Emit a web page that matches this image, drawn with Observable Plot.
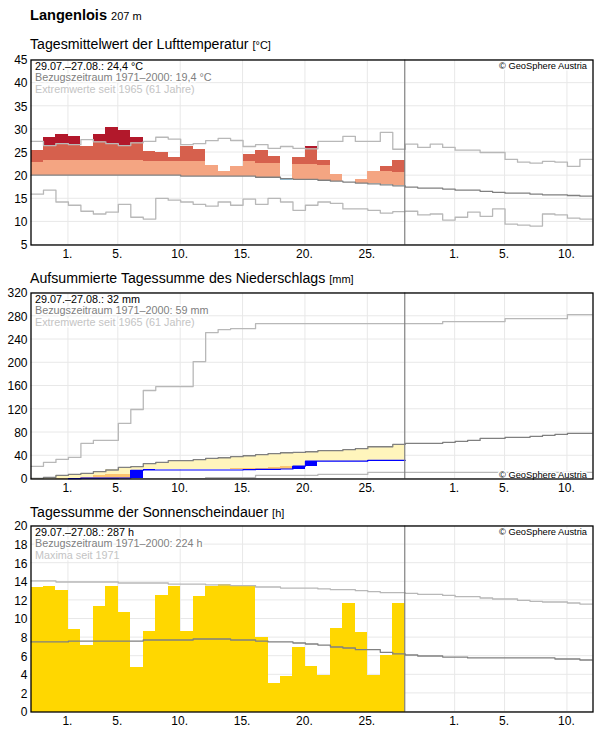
<!DOCTYPE html>
<html><head><meta charset="utf-8">
<script src="https://cdn.jsdelivr.net/npm/d3@7"></script>
<script src="https://cdn.jsdelivr.net/npm/@observablehq/plot@0.6"></script>
<style>
html,body{margin:0;padding:0;background:#fff;}
body{width:596px;height:729px;position:relative;overflow:hidden;font-family:"Liberation Sans",Arial,sans-serif;color:#000;}
.t{position:absolute;left:30px;white-space:nowrap;line-height:18px;height:18px;font-size:14.15px;z-index:2;}
.t small{font-size:11px;}
.t.h{font-size:14.6px;}
.s{position:absolute;left:0;}
.s svg{background:transparent;display:block;}
</style></head><body>
<script>
const tickPos=[3,7,12,17,22,27,34,38,43];
const tickLabels=["1.","5.","10.","15.","20.","25.","1.","5.","10."];

const tempTicks=[5,10,15,20,25,30,35,40,45];
const tempMean=[25.5,28.3,28.8,28.5,26.2,28.8,30.3,29.85,28.3,25.3,24.9,24.0,26.2,25.75,22.1,21.0,21.9,24.6,25.5,24.2,18.9,24.0,26.2,23.2,20.15,18.6,19.1,20.8,21.9,23.2];
const tempWarm=[22.9,23.2,23.2,23.2,23.2,23.2,23.2,23.2,23.2,23,23,23,23,23,23,23,23,23,22.7,22.7,22.5,22.3,22.3,22.1,21.6,21.4,21.2,20.8,20.8,20.6];
const tempNormal=[20.1,20.1,20.1,20.1,20.1,20.1,20.1,20.1,20.1,20.1,20.1,20.1,19.9,19.9,19.9,19.9,19.9,19.9,19.65,19.65,19.35,19.2,19.2,19,18.8,18.6,18.4,18.2,18,17.8,17.5,17.3,17.3,17.1,16.85,16.85,16.6,16.4,16.2,16.2,16,15.85,15.85,15.7,15.55];
const tempMax=[27.4,26.5,26.9,26.7,27.8,27.3,26.9,26.5,27.1,27.4,28.3,27.9,26.7,26.9,27.55,28.05,27.6,26.3,26.7,25.9,26.3,25.9,25.8,27.4,27.4,28.5,27.4,27.4,29.35,25.7,26.8,26.1,26.8,26.1,25.5,25.5,25,25,23.5,22.9,22.7,23.1,22.9,22,23.5];
const tempMin=[16,16.85,14.3,13.6,12.3,11.7,12.1,13.8,11,10.6,15.1,14.7,14.3,13.8,13.4,14.3,13.6,14.9,13.8,15.1,14.3,12.5,13.6,14.3,14,12.8,12.8,12.5,11.9,12.2,12.3,11.5,11.7,10.4,11,12.1,11.2,12.8,9.5,9.3,9.1,11.7,11.5,10.8,10.6];

const rainTicks=[0,40,80,120,160,200,240,280,320];
const rainSum=[0,0,0,0.6,1.5,1.5,1.5,1.7,14.9,15.5,15.5,15.5,15.5,15.5,15.5,15.5,15.5,16,16.6,16.6,17.2,22.3,30.9,30.9,30.9,30.9,30.9,32,32,32];
const rainLow=[0,0,1,1.7,3.4,5.2,6.9,7.4,10,11,12,13,14,16.6,17.2,17.2,17.8,18.9,18.9,19.5,22.3,22.3,23,24,25,26,27,28,29,30];
const rainNormal=[1.1,2.9,6.3,8,9.7,12.6,15.5,20,21.2,26.3,28.6,31.5,31.5,33.2,35.5,36.6,38.4,40,41.8,43.5,45.2,45.8,46.9,48.7,48.7,50.4,52.1,55.5,55.5,59.5,61.2,61.2,61.2,63,64.7,66.4,69.8,69.8,71.6,71.6,73.3,75,76.7,78.4,78.4];
const rainMax=[21.75,28.6,33.8,37.2,61.2,66.4,66.4,95.6,119.6,152.3,159,159,159,202,252,257,258.7,258.7,267.3,267.3,267.3,267.3,267.3,267.3,267.3,267.3,267.3,267.3,267.3,267.3,267.3,267.3,267.3,270.8,270.8,270.8,270.8,270.8,275.9,275.9,275.9,275.9,275.9,282.8,282.8];
const rainMin=[0.5,0.5,0.5,0.5,0.5,0.5,0.5,0.5,0.5,0.5,0.5,0.5,0.5,0.5,2.3,2.3,2.3,2.3,6.3,6.3,6.3,6.3,6.3,8,8,8,8,11.4,11.4,11.4,11.4,11.4,11.4,11.4,11.4,11.4,11.4,11.4,11.4,11.4,11.4,11.4,11.4,11.4,11.4];

const sunTicks=[0,2,4,6,8,10,12,14,16,18,20];
const sunHours=[13.37,13.48,13.05,8.85,7.13,11.33,13.48,10.68,4.77,8.64,12.5,13.48,8.64,12.4,13.48,13.66,13.5,13.5,8,3.05,3.8,6.92,4.87,3.94,8.96,11.65,8.53,3.94,6.06,11.65];
const sunNormal=[7.53,7.53,7.53,7.63,7.63,7.63,7.63,7.63,7.63,7.74,7.74,7.74,7.74,7.85,7.85,7.85,7.74,7.74,7.63,7.53,7.53,7.42,7.31,7.2,6.99,6.88,6.7,6.7,6.42,6.24,6.13,6.02,6.02,5.91,5.91,5.81,5.81,5.81,5.81,5.81,5.81,5.81,5.7,5.7,5.59];
const sunMax=[14.09,14.09,13.98,13.98,13.98,13.98,13.98,13.87,13.87,13.87,13.87,13.76,13.76,13.76,13.66,13.66,13.58,13.58,13.44,13.44,13.33,13.33,13.33,13.23,13.15,13.15,13.05,12.94,12.83,12.83,12.76,12.65,12.65,12.54,12.4,12.4,12.26,12.15,12.15,12,11.9,11.83,11.83,11.72,11.61];

const C={grid:"#e8e8e8",normal:"#808080",ext:"#b8b8b8",today:"#808080",
  warm:"#f4a582",hot:"#d6604d",record:"#b2182b",cool:"#92c5de",
  rain:"#0000ff",wet:"#fff5bc",dry:"#fdc56f",sun:"#ffd700"};

const stepped=a=>[...a.map((v,i)=>({x:i,y:v})),{x:a.length,y:a[a.length-1]}];
const band=(lo,hi,fill)=>Plot.rectY(lo.map((v,i)=>({i,a:v,b:hi[i]})).filter(d=>d.b>d.a),{x1:"i",x2:d=>d.i+1,y1:"a",y2:"b",fill,inset:0,shapeRendering:"crispEdges"});
const stepLine=(a,stroke,w=1.3)=>Plot.line(stepped(a),{x:"x",y:"y",curve:"step-after",stroke,strokeWidth:w,clip:true});

function panel({top,frameH,domain,yTicks,marks,legend,copyBottom}){
  const mt=10.5,mb=20.5;
  const legendMarks=legend.map(([txt,col],k)=>Plot.text([txt],{frameAnchor:"top-left",dx:4,dy:2+k*11.5,fill:col,fontSize:10.8,
    stroke:"white",strokeWidth:3,lineAnchor:"top",textAnchor:"start"}));
  const svg=Plot.plot({
    width:596,height:10+frameH+21,marginLeft:30.5,marginRight:3.5,marginTop:mt,marginBottom:mb,
    style:{fontFamily:'"Liberation Sans",Arial,sans-serif',fontSize:"12px",color:"#000",background:"transparent"},
    x:{domain:[0,45.05],axis:null},
    y:{domain,axis:null},
    marks:[
      Plot.ruleY(yTicks,{stroke:C.grid,strokeWidth:1,dy:-0.5}),
      Plot.ruleX(tickPos,{stroke:C.grid,strokeWidth:1,dx:-0.5}),
      ...marks,
      Plot.ruleX([30],{stroke:C.today,strokeWidth:1.2,dx:-0.5}),
      ...legendMarks,
      Plot.text(["© GeoSphere Austria"],{frameAnchor:copyBottom?"bottom-right":"top-right",dx:-6,dy:copyBottom?-1:2,fontSize:9.3,fill:"#000",
        stroke:"white",strokeWidth:3}),
      Plot.frame({stroke:"#000",strokeWidth:1.3}),
      Plot.axisY(yTicks,{anchor:"left",tickSize:0,tickPadding:3.5,label:null,fontSize:12,dy:0.5}),
      Plot.axisX(tickPos,{anchor:"bottom",tickSize:0,tickPadding:4,dx:-1,label:null,tickFormat:d=>tickLabels[tickPos.indexOf(d)],fontSize:12})
    ]
  });
  const w=document.createElement("div");w.className="s";w.style.top=(top-10)+"px";w.appendChild(svg);
  document.body.appendChild(w);
}
function title(top,html,cls){const d=document.createElement("div");d.className="t "+(cls||"");d.style.top=top+"px";d.innerHTML=html;document.body.appendChild(d);}

panel({top:59,frameH:185,domain:[5,45],yTicks:tempTicks,
  marks:[
    band(tempNormal.slice(0,30),tempMean.map((v,i)=>Math.min(v,tempWarm[i])),C.warm),
    band(tempWarm,tempMean.map((v,i)=>Math.min(v,tempMax[i])),C.hot),
    band(tempMax.slice(0,30),tempMean,C.record),
    band(tempMean,tempNormal.slice(0,30),C.cool),
    stepLine(tempMax,C.ext),stepLine(tempMin,C.ext),stepLine(tempNormal,C.normal)
  ],
  legend:[["29.07.–27.08.: 24,4 °C","#000"],["Bezugszeitraum 1971–2000: 19,4 °C","#808080"],["Extremwerte seit 1965 (61 Jahre)","#c4c4c4"]]});

panel({top:292,frameH:186,domain:[0,320],yTicks:rainTicks,copyBottom:true,
  marks:[
    band(rainSum,rainNormal.slice(0,30),C.wet),
    band(rainSum,rainLow,C.dry),
    band(rainSum.map((v,i)=>i?rainSum[i-1]:0),rainSum,C.rain),
    stepLine(rainMax,C.ext),stepLine(rainMin,C.ext),stepLine(rainNormal,C.normal),
    Plot.line(stepped(rainSum).filter(d=>d.y>0),{x:"x",y:"y",curve:"step-after",stroke:C.rain,strokeWidth:1.2})
  ],
  legend:[["29.07.–27.08.: 32 mm","#000"],["Bezugszeitraum 1971–2000: 59 mm","#808080"],["Extremwerte seit 1965 (61 Jahre)","#c4c4c4"]]});

panel({top:525,frameH:186,domain:[0,20],yTicks:sunTicks,
  marks:[
    band(sunHours.map(()=>0),sunHours,C.sun),
    stepLine(sunMax,C.ext),stepLine(sunNormal,C.normal)
  ],
  legend:[["29.07.–27.08.: 287 h","#000"],["Bezugszeitraum 1971–2000: 224 h","#808080"],["Maxima seit 1971","#c4c4c4"]]});

title(6,'<b>Langenlois</b> <small>207 m</small>','h');
title(35,'Tagesmittelwert der Lufttemperatur <small>[°C]</small>');
title(269,'Aufsummierte Tagessumme des Niederschlags <small>[mm]</small>');
title(503,'Tagessumme der Sonnenscheindauer <small>[h]</small>');
</script>
</body></html>
